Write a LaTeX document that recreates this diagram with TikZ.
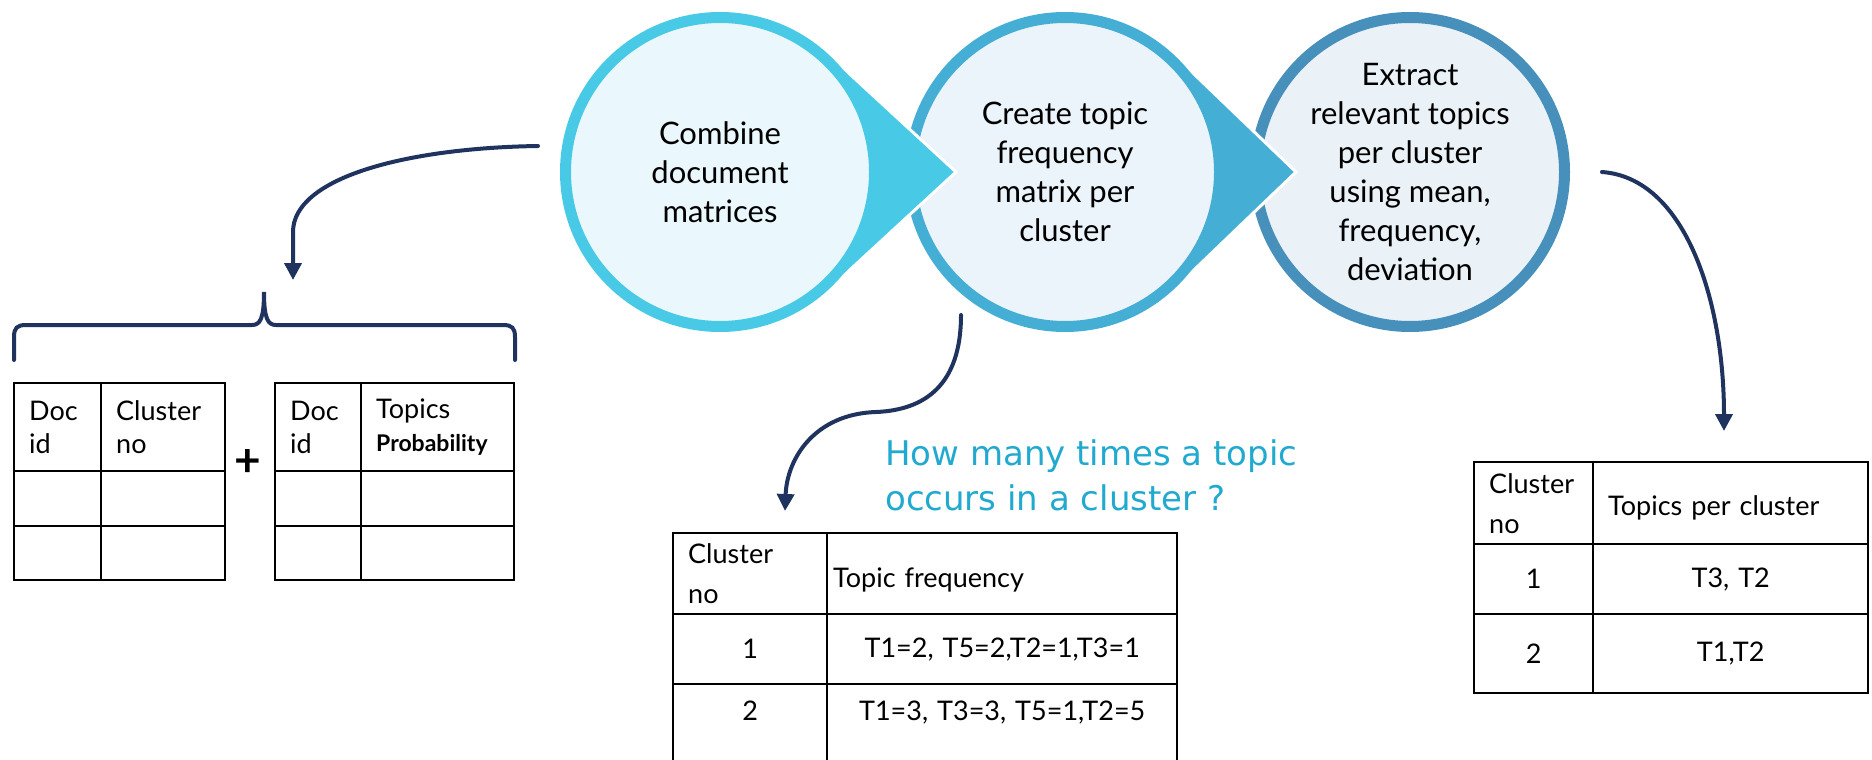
\documentclass[tikz,border=0pt]{standalone}
\usepackage{fontspec}
\setmainfont{Lato}
\newfontfamily\notefont{DejaVu Sans}
\usetikzlibrary{arrows.meta, calc, matrix}

\definecolor{ringA}{RGB}{72,202,230}
\definecolor{fillA}{RGB}{234,247,252}
\definecolor{ringB}{RGB}{69,174,212}
\definecolor{fillB}{RGB}{235,244,250}
\definecolor{ringC}{RGB}{71,144,188}
\definecolor{fillC}{RGB}{234,242,247}
\definecolor{navy}{RGB}{31,51,94}
\definecolor{noteblue}{RGB}{33,169,207}

\tikzset{
  stage/.style={circle, line width=11pt, minimum size=309pt, inner sep=-30pt, align=center, font=\fontsize{31}{39}\selectfont},
  pointer/.style={draw=white, line width=3pt},
  flow/.style={draw=navy, line width=4pt, line cap=round, -{Triangle[length=17pt,width=17pt]}},
  grid/.style={matrix of nodes, nodes in empty cells, inner sep=0pt, row sep=-2.5pt, column sep=-2.5pt,
    nodes={draw, line width=2.5pt, anchor=center, inner xsep=15pt, inner ysep=0pt, align=center}},
  note/.style={text=noteblue, align=left, inner sep=0pt, font=\notefont\fontsize{34}{45}\selectfont}
}

\begin{document}
\begin{tikzpicture}[x=1pt, y=-1pt]
  \useasboundingbox (0,0) rectangle (1872,760);

  % centres of the three steps
  \coordinate (c1) at (720,172);
  \coordinate (c2) at (1065,172);
  \coordinate (c3) at (1410,172);

  % steps, right to left so each pointer lies over the next circle
  \node[stage, draw=ringC, fill=fillC] (extract) at (c3) {Extract\\relevant topics\\per cluster\\using mean,\\frequency,\\deviation};
  \path[pointer, fill=ringB] ($(c2)+(47:160)$) -- ($(c2)+(231,0)$) -- ($(c2)+(-47:160)$) -- cycle;
  \node[stage, draw=ringB, fill=fillB] (create) at (c2) {Create topic\\frequency\\matrix per\\cluster};
  \path[pointer, fill=ringA] ($(c1)+(47:160)$) -- ($(c1)+(236,0)$) -- ($(c1)+(-47:160)$) -- cycle;
  \node[stage, draw=ringA, fill=fillA] (combine) at (c1) {Combine\\document\\matrices};

  % the two input tables
  \matrix[grid, anchor=north west, nodes={font=\fontsize{27}{33}\selectfont},
    column 1/.style={nodes={text width=57pt}}, column 2/.style={nodes={text width=94pt}},
    row 1/.style={nodes={minimum height=88pt, align=left}},
    row 2/.style={nodes={minimum height=55pt}}, row 3/.style={nodes={minimum height=54pt}}]
    (doctab) at (12.75,381.75) {
    {Doc\\id} & {Cluster\\no} \\
    & \\
    & \\
  };
  \matrix[grid, anchor=north west, nodes={font=\fontsize{27}{33}\selectfont},
    column 1/.style={nodes={text width=56pt}}, column 2/.style={nodes={text width=123pt}},
    row 1/.style={nodes={minimum height=88pt, align=left}},
    row 2/.style={nodes={minimum height=55pt}}, row 3/.style={nodes={minimum height=54pt}}]
    (probtab) at (273.75,381.75) {
    {Doc\\id} & {Topics\\{\fontsize{23}{33}\selectfont\bfseries Probability}} \\
    & \\
    & \\
  };
  \node[font=\fontsize{46}{46}\selectfont\bfseries] (plus) at (248,463) {+};

  % brace over both tables
  \draw[navy, line width=4pt, line cap=round] (14,360) -- (14,337)
    .. controls (14,328) and (17,325) .. (26,325) -- (252,325)
    .. controls (260,325) and (264,319) .. (264,292)
    .. controls (264,319) and (268,325) .. (276,325) -- (503,325)
    .. controls (512,325) and (515,328) .. (515,337) -- (515,360);

  % frequency table
  \node[note, anchor=north west] (howmany) at (885,439) {How many times a topic\\occurs in a cluster ?};
  \matrix[grid, anchor=north west, nodes={font=\fontsize{27}{40}\selectfont},
    column 1/.style={nodes={text width=124pt}}, column 2/.style={nodes={text width=338pt, inner xsep=6pt}},
    row 1/.style={nodes={minimum height=81pt, align=left}},
    row 2/.style={nodes={minimum height=70pt}}, row 3/.style={nodes={text height=36pt, text depth=55pt}}]
    (freqtab) at (671.75,531.75) {
    {Cluster\\no} & |[text height=32pt]| Topic frequency \\
    1 & T1=2, T5=2,T2=1,T3=1 \\
    2 & T1=3, T3=3, T5=1,T2=5 \\
  };

  % result table
  \matrix[grid, anchor=north west, nodes={font=\fontsize{27}{40}\selectfont},
    column 1/.style={nodes={text width=89pt}}, column 2/.style={nodes={text width=245pt}},
    row 1/.style={nodes={minimum height=82pt, align=left}},
    row 2/.style={nodes={minimum height=70pt}}, row 3/.style={nodes={minimum height=79pt}}]
    (toptab) at (1472.75,460.75) {
    {Cluster\\no} & |[text height=30pt]| Topics per cluster \\
    1 & T3, T2 \\
    2 & T1,T2 \\
  };

  % connectors
  \coordinate (a1start) at (538,146);
  \coordinate (a1end) at (293,280);
  \coordinate (a2start) at (961,315);
  \coordinate (a2end) at (785,511);
  \coordinate (a3start) at (1602,172);
  \coordinate (a3end) at (1724,431);
  \draw[flow] (a1start) .. controls (405,148) and (293,178) .. (293,232) -- (a1end);
  \draw[flow] (a2start) .. controls (961,385) and (925,410) .. (876,412)
    .. controls (815,414) and (787,458) .. (a2end);
  \draw[flow] (a3start) .. controls (1685,178) and (1724,300) .. (a3end);
\end{tikzpicture}
\end{document}
